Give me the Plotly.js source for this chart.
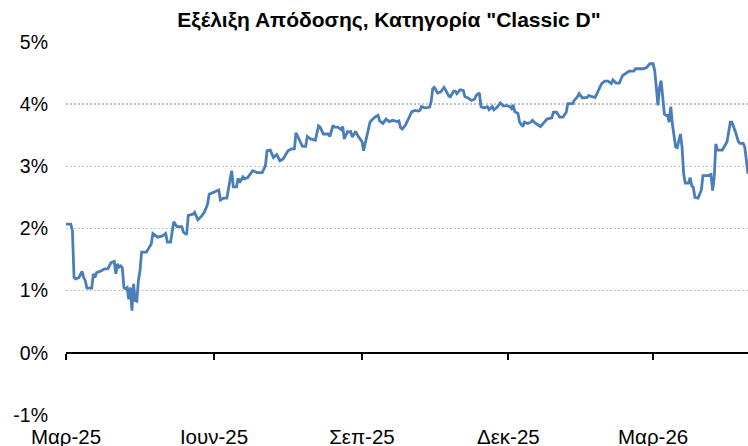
<!DOCTYPE html>
<html>
<head>
<meta charset="utf-8">
<script src="https://cdn.plot.ly/plotly-3.0.1.min.js"></script>
<style>html,body{margin:0;padding:0;background:#fff;}#chart{width:748px;height:446px;}</style>
</head>
<body>
<div id="chart"></div>
<script>
var chartTitle = 'Εξέλιξη Απόδοσης, Κατηγορία "Classic D"';

var dates = [
"2025-03-01","2025-03-04","2025-03-05","2025-03-06","2025-03-07","2025-03-09","2025-03-11","2025-03-12","2025-03-13","2025-03-14",
"2025-03-17","2025-03-18","2025-03-19","2025-03-20","2025-03-23","2025-03-25","2025-03-27","2025-03-29","2025-03-31","2025-04-01",
"2025-04-02","2025-04-03","2025-04-04","2025-04-05","2025-04-06","2025-04-07","2025-04-08","2025-04-09","2025-04-10","2025-04-11",
"2025-04-12","2025-04-13","2025-04-14","2025-04-15","2025-04-16","2025-04-17","2025-04-20","2025-04-22","2025-04-23","2025-04-24",
"2025-04-27","2025-04-30","2025-05-02","2025-05-03","2025-05-05","2025-05-07","2025-05-09","2025-05-12","2025-05-13","2025-05-15",
"2025-05-16","2025-05-19","2025-05-20","2025-05-22","2025-05-24","2025-05-26","2025-05-28","2025-05-29","2025-06-01","2025-06-04",
"2025-06-05","2025-06-07","2025-06-09","2025-06-11","2025-06-12","2025-06-13","2025-06-15","2025-06-16","2025-06-17","2025-06-19",
"2025-06-20","2025-06-22","2025-06-25","2025-06-28","2025-07-01","2025-07-03","2025-07-04","2025-07-06","2025-07-08","2025-07-10",
"2025-07-12","2025-07-14","2025-07-17","2025-07-19","2025-07-21","2025-07-22","2025-07-24","2025-07-26","2025-07-28","2025-07-29",
"2025-07-31","2025-08-03","2025-08-05","2025-08-06","2025-08-08","2025-08-11","2025-08-12","2025-08-14","2025-08-15","2025-08-17",
"2025-08-19","2025-08-20","2025-08-21","2025-08-23","2025-08-24","2025-08-25","2025-08-26","2025-08-28","2025-08-30","2025-09-01",
"2025-09-02","2025-09-04","2025-09-06","2025-09-07","2025-09-09","2025-09-11","2025-09-12","2025-09-14","2025-09-16","2025-09-18",
"2025-09-20","2025-09-23","2025-09-24","2025-09-25","2025-09-26","2025-09-28","2025-09-30","2025-10-02","2025-10-04","2025-10-06",
"2025-10-07","2025-10-08","2025-10-10","2025-10-13","2025-10-14","2025-10-15","2025-10-16","2025-10-18","2025-10-20","2025-10-22",
"2025-10-23","2025-10-25","2025-10-26","2025-10-28","2025-10-29","2025-10-30","2025-11-01","2025-11-03","2025-11-04","2025-11-06",
"2025-11-08","2025-11-10","2025-11-11","2025-11-13","2025-11-14","2025-11-16","2025-11-18","2025-11-19","2025-11-21","2025-11-22",
"2025-11-24","2025-11-26","2025-11-28","2025-11-30","2025-12-02","2025-12-03","2025-12-04","2025-12-05","2025-12-07","2025-12-08",
"2025-12-10","2025-12-11","2025-12-13","2025-12-15","2025-12-16","2025-12-18","2025-12-21","2025-12-22","2025-12-25","2025-12-28",
"2025-12-29","2025-12-31","2026-01-02","2026-01-04","2026-01-06","2026-01-07","2026-01-10","2026-01-11","2026-01-13","2026-01-14",
"2026-01-16","2026-01-19","2026-01-20","2026-01-22","2026-01-24","2026-01-26","2026-01-28","2026-01-30","2026-02-01","2026-02-03",
"2026-02-04","2026-02-06","2026-02-08","2026-02-10","2026-02-12","2026-02-14","2026-02-17","2026-02-18","2026-02-21","2026-02-23",
"2026-02-25","2026-02-27","2026-03-01","2026-03-02","2026-03-03","2026-03-04","2026-03-05","2026-03-06","2026-03-07","2026-03-08",
"2026-03-09","2026-03-10","2026-03-11","2026-03-12","2026-03-13","2026-03-14","2026-03-15","2026-03-16","2026-03-17","2026-03-18",
"2026-03-19","2026-03-20","2026-03-21","2026-03-23","2026-03-24","2026-03-25","2026-03-26","2026-03-27","2026-03-29","2026-03-31",
"2026-04-01","2026-04-04","2026-04-06","2026-04-07","2026-04-08","2026-04-09","2026-04-10","2026-04-13","2026-04-15","2026-04-16",
"2026-04-18","2026-04-19","2026-04-21","2026-04-23","2026-04-24","2026-04-26","2026-04-27","2026-04-29"
];

var returnsPct = [
2.07,2.07,1.96,1.21,1.19,1.21,1.31,1.21,1.16,1.04,
1.04,1.27,1.21,1.29,1.32,1.35,1.35,1.45,1.47,1.27,
1.43,1.38,1.40,1.37,1.05,1.03,1.05,0.86,1.05,0.68,
1.11,0.84,0.83,1.16,1.32,1.62,1.62,1.72,1.75,1.92,
1.86,1.88,1.92,1.78,1.78,2.11,2.03,2.03,1.94,1.90,
2.21,2.23,2.26,2.14,2.19,2.26,2.39,2.55,2.58,2.62,
2.46,2.49,2.49,2.80,2.93,2.67,2.67,2.81,2.74,2.83,
2.80,2.82,2.93,2.90,2.90,3.01,3.25,3.26,3.14,3.19,
3.09,3.12,3.25,3.28,3.28,3.54,3.42,3.32,3.32,3.48,
3.44,3.42,3.65,3.63,3.52,3.52,3.48,3.66,3.63,3.63,
3.59,3.64,3.44,3.56,3.55,3.56,3.47,3.56,3.47,3.40,
3.25,3.48,3.71,3.74,3.79,3.82,3.73,3.69,3.76,3.72,
3.74,3.72,3.73,3.62,3.60,3.66,3.76,3.88,3.90,3.89,
3.90,3.96,3.94,3.95,4.04,4.25,4.27,4.18,4.20,4.27,
4.23,4.13,4.12,4.21,4.21,4.17,4.23,4.22,4.12,4.10,
4.06,4.08,4.14,4.18,3.96,3.94,3.96,3.91,3.96,3.91,
3.95,4.02,3.97,3.98,3.96,3.93,3.99,3.88,3.85,3.71,
3.64,3.71,3.69,3.71,3.74,3.69,3.64,3.67,3.76,3.78,
3.87,3.87,3.79,3.79,3.87,4.01,4.01,4.06,4.12,4.17,
4.10,4.11,4.14,4.12,4.11,4.22,4.33,4.37,4.37,4.33,
4.39,4.34,4.34,4.46,4.50,4.53,4.53,4.57,4.57,4.57,
4.59,4.65,4.65,4.54,4.27,3.98,4.27,4.38,4.11,3.84,
3.82,3.82,3.71,3.96,3.68,3.47,3.31,3.30,3.44,3.52,
3.31,2.88,2.73,2.73,2.82,2.69,2.66,2.50,2.49,2.62,
2.85,2.85,2.87,2.61,2.82,3.36,3.26,3.26,3.35,3.40,
3.71,3.71,3.57,3.40,3.37,3.37,3.31,2.88
];

var xTickVals = ["2025-03-01","2025-06-01","2025-09-01","2025-12-01","2026-03-01"];
var xTickText = ["Μαρ-25","Ιουν-25","Σεπ-25","Δεκ-25","Μαρ-26"];
var yTickVals = [-1,0,1,2,3,4,5];
var yTickText = ["-1%","0%","1%","2%","3%","4%","5%"];
var xRange = ["2025-03-01","2026-04-29"];
var yRange = [-1,5];

var FONT = '"Liberation Sans", Arial, sans-serif';

var traces = [
  {
    x: dates, y: returnsPct, type: 'scatter', mode: 'lines',
    xaxis: 'x', yaxis: 'y',
    line: {color: '#4a7ebb', width: 2.8},
    hoverinfo: 'skip', showlegend: false
  },
  {
    x: dates, y: returnsPct, type: 'scatter', mode: 'lines',
    xaxis: 'x2', yaxis: 'y',
    line: {color: 'rgba(0,0,0,0)', width: 0},
    hoverinfo: 'skip', showlegend: false
  }
];

var layout = {
  width: 748, height: 446,
  margin: {l: 66, r: 0, t: 42, b: 31, pad: 0},
  paper_bgcolor: '#ffffff', plot_bgcolor: '#ffffff',
  font: {family: FONT, size: 19, color: '#000000'},
  showlegend: false,
  title: {
    text: '<b>' + chartTitle + '</b>',
    font: {family: FONT, size: 21, color: '#000000'},
    x: 389/748, xref: 'container', xanchor: 'center',
    y: 1 - 20/446, yref: 'container', yanchor: 'middle'
  },
  xaxis: {
    type: 'date', range: xRange,
    anchor: 'free', position: 1/6,
    showgrid: false, zeroline: false,
    showline: true, linecolor: '#000000', linewidth: 2,
    ticks: 'outside', ticklen: 6, tickwidth: 2, tickcolor: '#000000',
    tickmode: 'array', tickvals: xTickVals, ticktext: xTickText,
    showticklabels: false
  },
  xaxis2: {
    type: 'date', range: xRange,
    overlaying: 'x', anchor: 'y', side: 'bottom',
    showgrid: false, zeroline: false, showline: false,
    ticks: '', tickmode: 'array', tickvals: xTickVals, ticktext: xTickText,
    ticklabelstandoff: 7,
    tickfont: {family: FONT, size: 20.5, color: '#000000'}
  },
  yaxis: {
    range: yRange, zeroline: false,
    showline: false, ticks: '',
    tickmode: 'array', tickvals: yTickVals, ticktext: yTickText,
    showgrid: true, gridcolor: '#c4c4c4', gridwidth: 1.6, griddash: '1.6px,2.4px',
    ticklabelstandoff: 17,
    tickfont: {family: FONT, size: 19.5, color: '#000000'}
  }
};

Plotly.newPlot('chart', traces, layout, {displayModeBar: false, staticPlot: true});
</script>
</body>
</html>
